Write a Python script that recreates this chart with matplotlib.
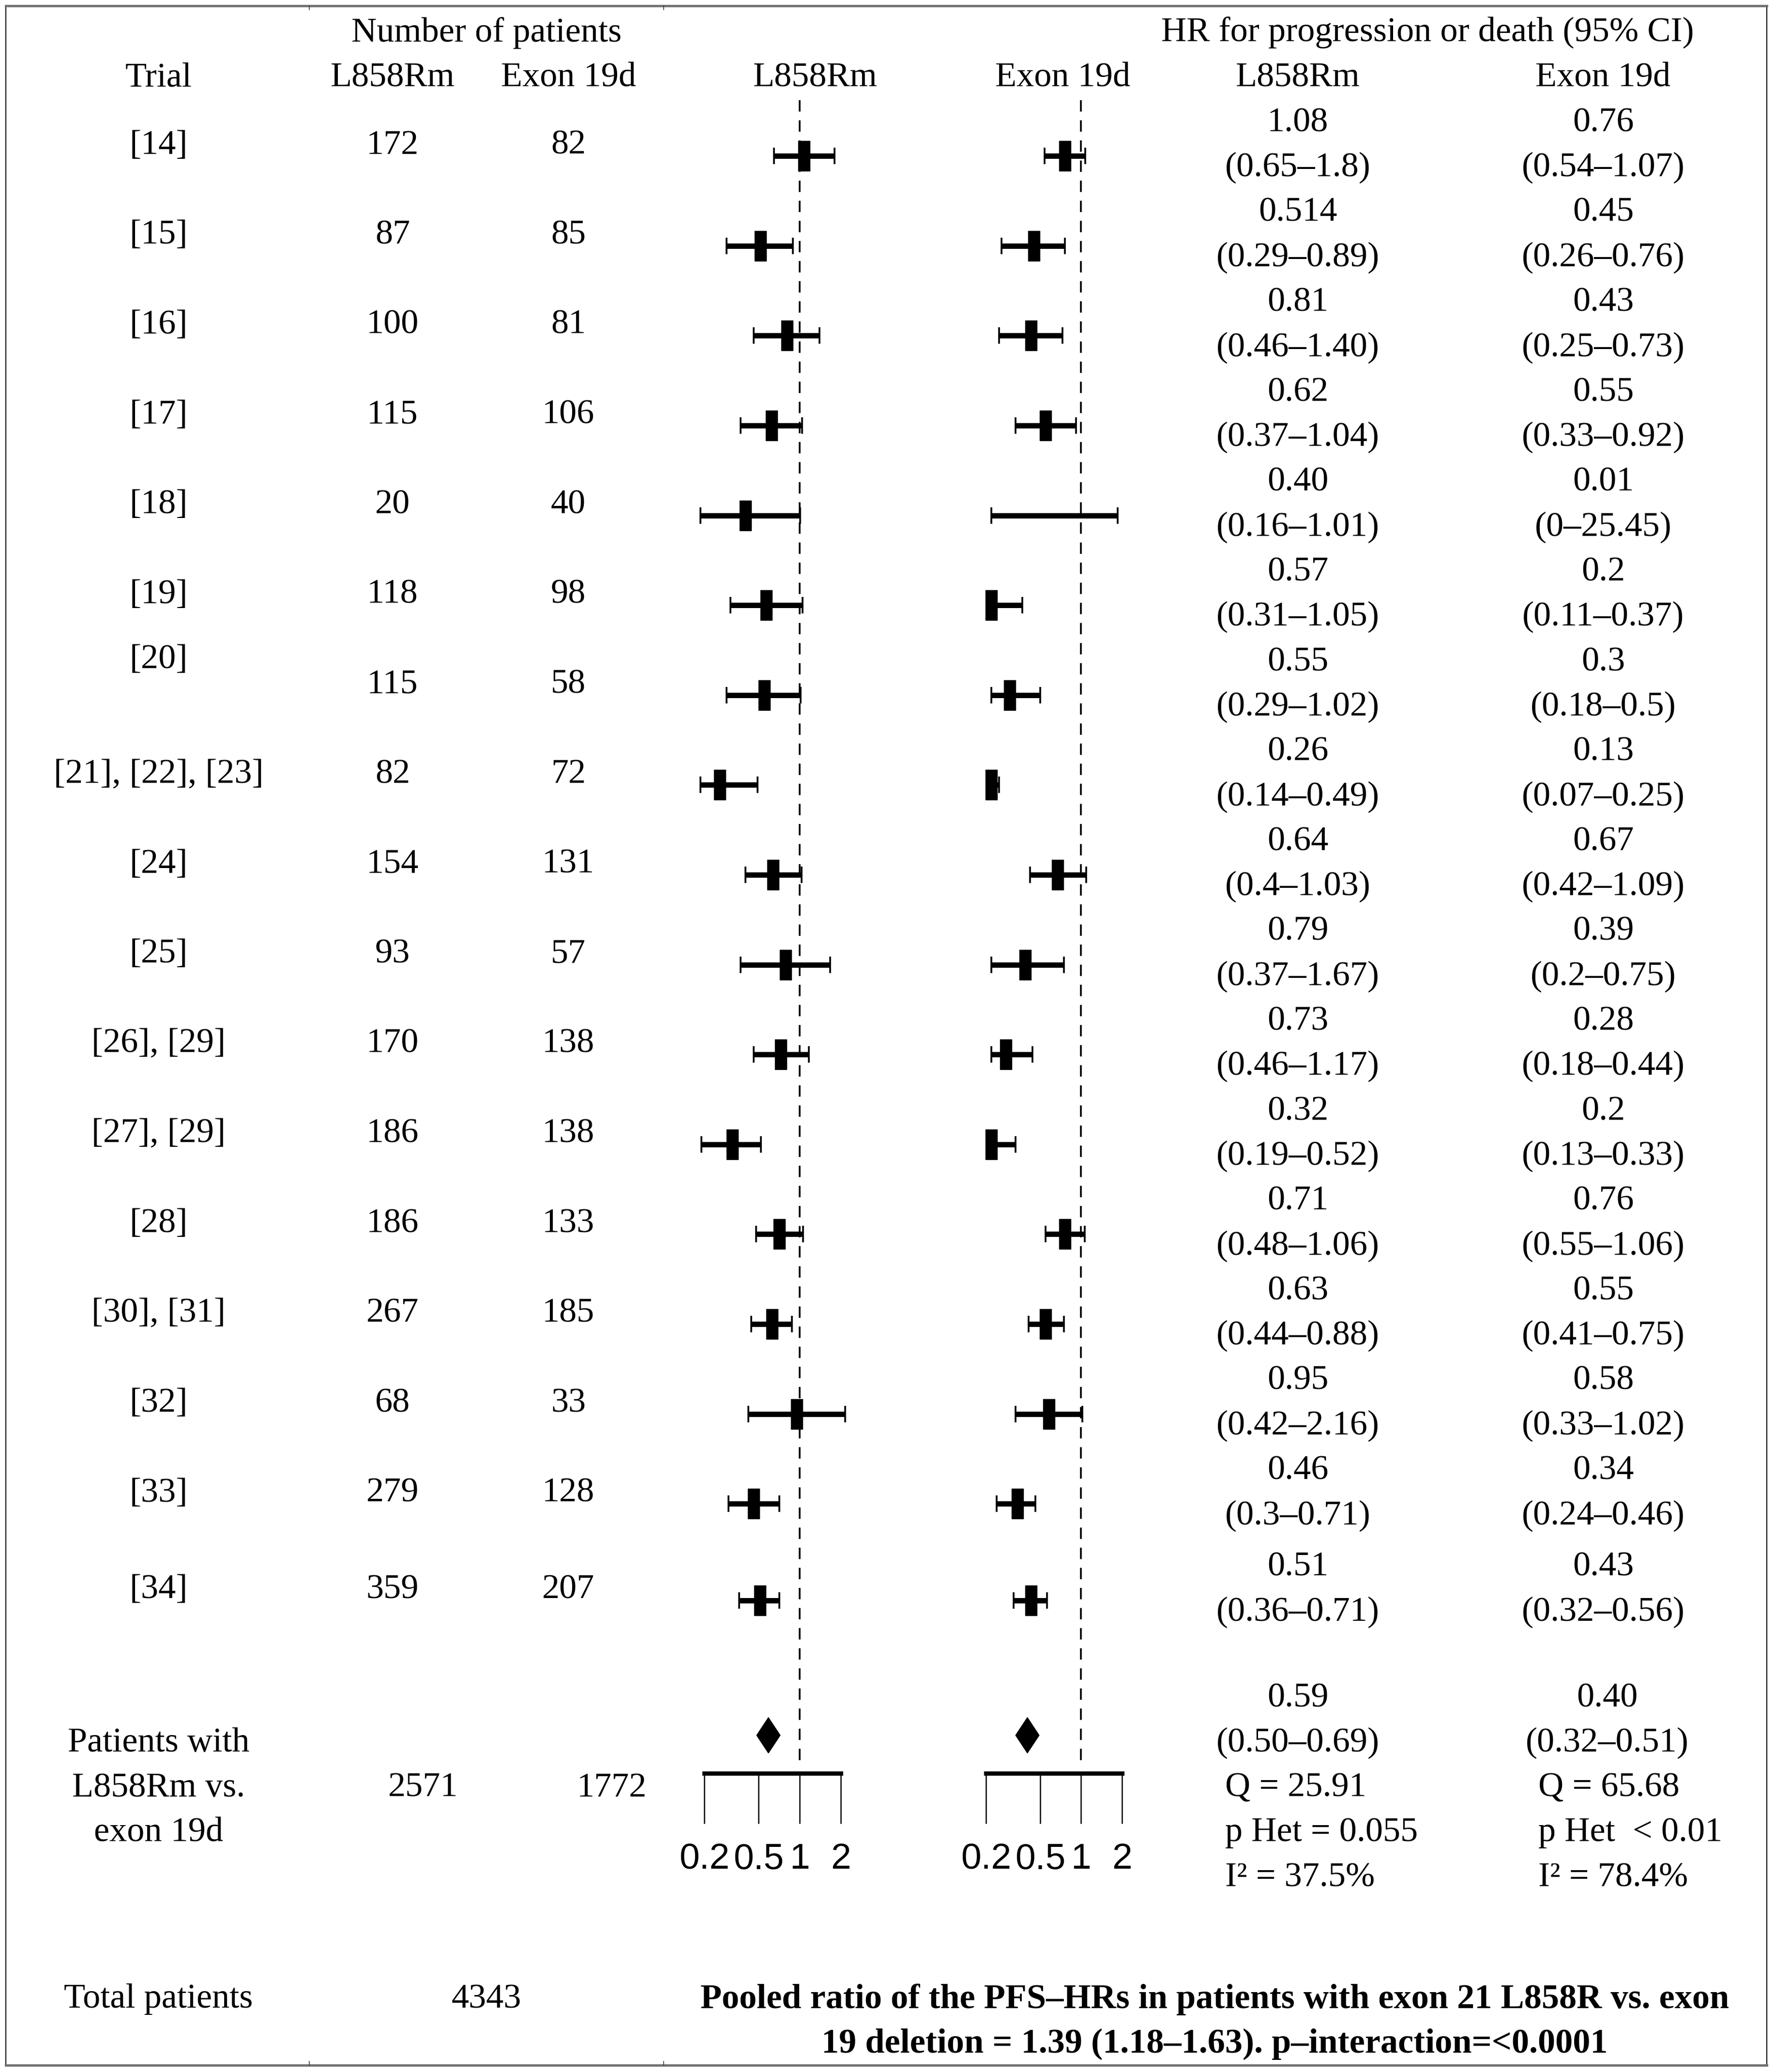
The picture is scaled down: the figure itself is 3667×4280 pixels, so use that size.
import numpy as np
import matplotlib
matplotlib.use('Agg')
import matplotlib.pyplot as plt
from matplotlib import font_manager
from matplotlib.lines import Line2D
from matplotlib.path import Path
from matplotlib.ticker import NullLocator, NullFormatter

# data
trials = ['[14]', '[15]', '[16]', '[17]', '[18]', '[19]', '[20]',
          '[21], [22], [23]', '[24]', '[25]', '[26], [29]', '[27], [29]',
          '[28]', '[30], [31]', '[32]', '[33]', '[34]']
n_l858r = [172, 87, 100, 115, 20, 118, 115, 82, 154, 93, 170, 186, 186,
           267, 68, 279, 359]
n_exon19 = [82, 85, 81, 106, 40, 98, 58, 72, 131, 57, 138, 138, 133, 185,
            33, 128, 207]

hr_l858r = ['1.08', '0.514', '0.81', '0.62', '0.40', '0.57', '0.55', '0.26',
            '0.64', '0.79', '0.73', '0.32', '0.71', '0.63', '0.95', '0.46',
            '0.51']
ci_l858r = ['0.65–1.8', '0.29–0.89', '0.46–1.40', '0.37–1.04', '0.16–1.01',
            '0.31–1.05', '0.29–1.02', '0.14–0.49', '0.4–1.03', '0.37–1.67',
            '0.46–1.17', '0.19–0.52', '0.48–1.06', '0.44–0.88', '0.42–2.16',
            '0.3–0.71', '0.36–0.71']
hr_exon19 = ['0.76', '0.45', '0.43', '0.55', '0.01', '0.2', '0.3', '0.13',
             '0.67', '0.39', '0.28', '0.2', '0.76', '0.55', '0.58', '0.34',
             '0.43']
ci_exon19 = ['0.54–1.07', '0.26–0.76', '0.25–0.73', '0.33–0.92', '0–25.45',
             '0.11–0.37', '0.18–0.5', '0.07–0.25', '0.42–1.09', '0.2–0.75',
             '0.18–0.44', '0.13–0.33', '0.55–1.06', '0.41–0.75', '0.33–1.02',
             '0.24–0.46', '0.32–0.56']

pooled_hr = {'L858Rm': '0.59', 'Exon 19d': '0.40'}
pooled_ci = {'L858Rm': '0.50–0.69', 'Exon 19d': '0.32–0.51'}
pooled_stats = {'L858Rm': ['Q = 25.91', 'p Het = 0.055', 'I² = 37.5%'],
                'Exon 19d': ['Q = 65.68', 'p Het  < 0.01', 'I² = 78.4%']}
total_l858r, total_exon19, total_all = 2571, 1772, 4343
axis_ticks = [0.2, 0.5, 1, 2]
axis_ticklabels = ['0.2', '0.5', '1', '2']
footnote = ['Pooled ratio of the PFS–HRs in patients with exon 21 L858R vs. exon',
            '19 deletion = 1.39 (1.18–1.63). p–interaction=<0.0001']

plt.rcParams['font.family'] = ['Liberation Serif', 'DejaVu Serif']
FS = 52

names = {f.name for f in font_manager.fontManager.ttflist}
if 'Liberation Sans Narrow' in names:
    tick_font = dict(family='Liberation Sans Narrow', size=60)
elif 'Liberation Sans' in names:
    tick_font = dict(family='Liberation Sans', size=54)
else:
    tick_font = dict(family='DejaVu Sans', size=48)

# layout works on the reference grid (1343 x 1568)
W, H = 1343.0, 1568.0
fig = plt.figure(figsize=(36.67, 42.80), dpi=100)


def fx(x):
    return x / W


def fy(y):
    return 1 - y / H


def put(x, y, s, ha='center', **kw):
    fig.text(fx(x), fy(y + 2), s, ha=ha, va='center', fontsize=FS, **kw)


def parse_ci(ci):
    lo, hi = zip(*[c.split('–') for c in ci])
    return np.array(lo, float), np.array(hi, float)


row_y = 108 + 68 * np.arange(len(trials), dtype=float)
row_y[-1] += 5

# headers
put(368, 23, 'Number of patients')
put(1080, 23, 'HR for progression or death (95% CI)')
for x, s in [(120, 'Trial'), (297, 'L858Rm'), (430, 'Exon 19d'),
             (617, 'L858Rm'), (804, 'Exon 19d'), (982, 'L858Rm'),
             (1213, 'Exon 19d')]:
    put(x, 57, s)

# table body
for i, y in enumerate(row_y):
    put(120, y - 19 if trials[i] == '[20]' else y, trials[i])
    put(297, y, str(n_l858r[i]))
    put(430, y, str(n_exon19[i]))
    put(982, y - 17, hr_l858r[i])
    put(982, y + 17, '(' + ci_l858r[i] + ')')
    put(1213, y - 17, hr_exon19[i])
    put(1213, y + 17, '(' + ci_exon19[i] + ')')

# pooled block
put(120, 1317, 'Patients with')
put(120, 1351, 'L858Rm vs.')
put(120, 1385, 'exon 19d')
put(320, 1351, str(total_l858r))
put(463, 1351, str(total_exon19))
for key, xc, xl in [('L858Rm', 982, 927), ('Exon 19d', 1216, 1164)]:
    put(xc, 1283, pooled_hr[key])
    put(xc, 1317, '(' + pooled_ci[key] + ')')
    for k, s in enumerate(pooled_stats[key]):
        put(xl, 1351 + 34 * k, s, ha='left')

put(120, 1511, 'Total patients')
put(368, 1511, str(total_all))
put(919, 1511, footnote[0], fontweight='bold')
put(919, 1545, footnote[1], fontweight='bold')

# forest panels
AX_Y = 1342
box = Path([(-0.37, -1), (0.37, -1), (0.37, 1), (-0.37, 1), (-0.37, -1)])
diamond = Path([(0, -1), (0.66, 0), (0, 1), (-0.66, 0), (0, -1)])


def forest(ax_l, ax_r, pos02, pos2, hr, ci, clip_lo, clip_hi, p_hr):
    ppl = (pos2 - pos02) / np.log(10)
    ax = fig.add_axes([fx(ax_l), fy(AX_Y), (ax_r - ax_l) / W, AX_Y / H])
    ax.set_xscale('log')
    ax.set_xlim(0.2 * np.exp((ax_l - pos02) / ppl),
                2 * np.exp((ax_r - pos2) / ppl))
    ax.set_ylim(AX_Y, 0)
    ax.patch.set_visible(False)

    hr = np.array(hr, float)
    lo, hi = parse_ci(ci)
    xc = np.clip(hr, clip_lo, clip_hi)
    lo_c = np.clip(lo, clip_lo, clip_hi)
    hi_c = np.clip(hi, clip_lo, clip_hi)
    ym = row_y + 10
    ax.errorbar(xc, ym, xerr=[xc - lo_c, hi_c - xc], fmt='none',
                ecolor='black', elinewidth=8, capsize=12, capthick=2.6)
    keep = hr > 0.05
    ax.plot(xc[keep], ym[keep], linestyle='none', marker=box, markersize=45,
            color='black')
    ax.plot([float(p_hr)], [1313], linestyle='none', marker=diamond,
            markersize=53, color='black')
    ax.plot([1, 1], [76, 1334], color='black', lw=2.6, dashes=(6.5, 5))

    for side in ['left', 'right', 'top']:
        ax.spines[side].set_visible(False)
    ax.spines['bottom'].set_bounds(0.2, 2)
    ax.spines['bottom'].set_linewidth(6.5)
    ax.yaxis.set_visible(False)
    ax.xaxis.set_minor_locator(NullLocator())
    ax.xaxis.set_minor_formatter(NullFormatter())
    ax.set_xticks(axis_ticks)
    ax.set_xticklabels(axis_ticklabels, fontfamily=tick_font['family'],
                       fontsize=tick_font['size'])
    ax.tick_params(axis='x', direction='out', length=75, width=1.8, pad=28)
    return ax


forest(505, 665, 533, 636, hr_l858r, ci_l858r, 0.187, 2.5,
       pooled_hr['L858Rm'])
forest(722, 880, 746, 849, hr_exon19, ci_exon19, 0.219, 1.85,
       pooled_hr['Exon 19d'])

# frame
fig.add_artist(Line2D([fx(4.4), fx(4.4)], [fy(4.4), fy(1562.8)],
                      color='black', lw=1.6))
fig.add_artist(Line2D([fx(1336.7), fx(1336.7)], [fy(4.4), fy(1562.8)],
                      color='black', lw=1.6))
for yy in [4.4, 1562.8]:
    fig.add_artist(Line2D([fx(4.4), fx(1336.7)], [fy(yy), fy(yy)],
                          color='#707070', lw=3.5))
    for xx in [234, 502]:
        d = 3 if yy < 100 else -3
        fig.add_artist(Line2D([fx(xx), fx(xx)], [fy(yy), fy(yy + d)],
                              color='#404040', lw=1.2))

fig.savefig('out.png', dpi=100, facecolor='white')
